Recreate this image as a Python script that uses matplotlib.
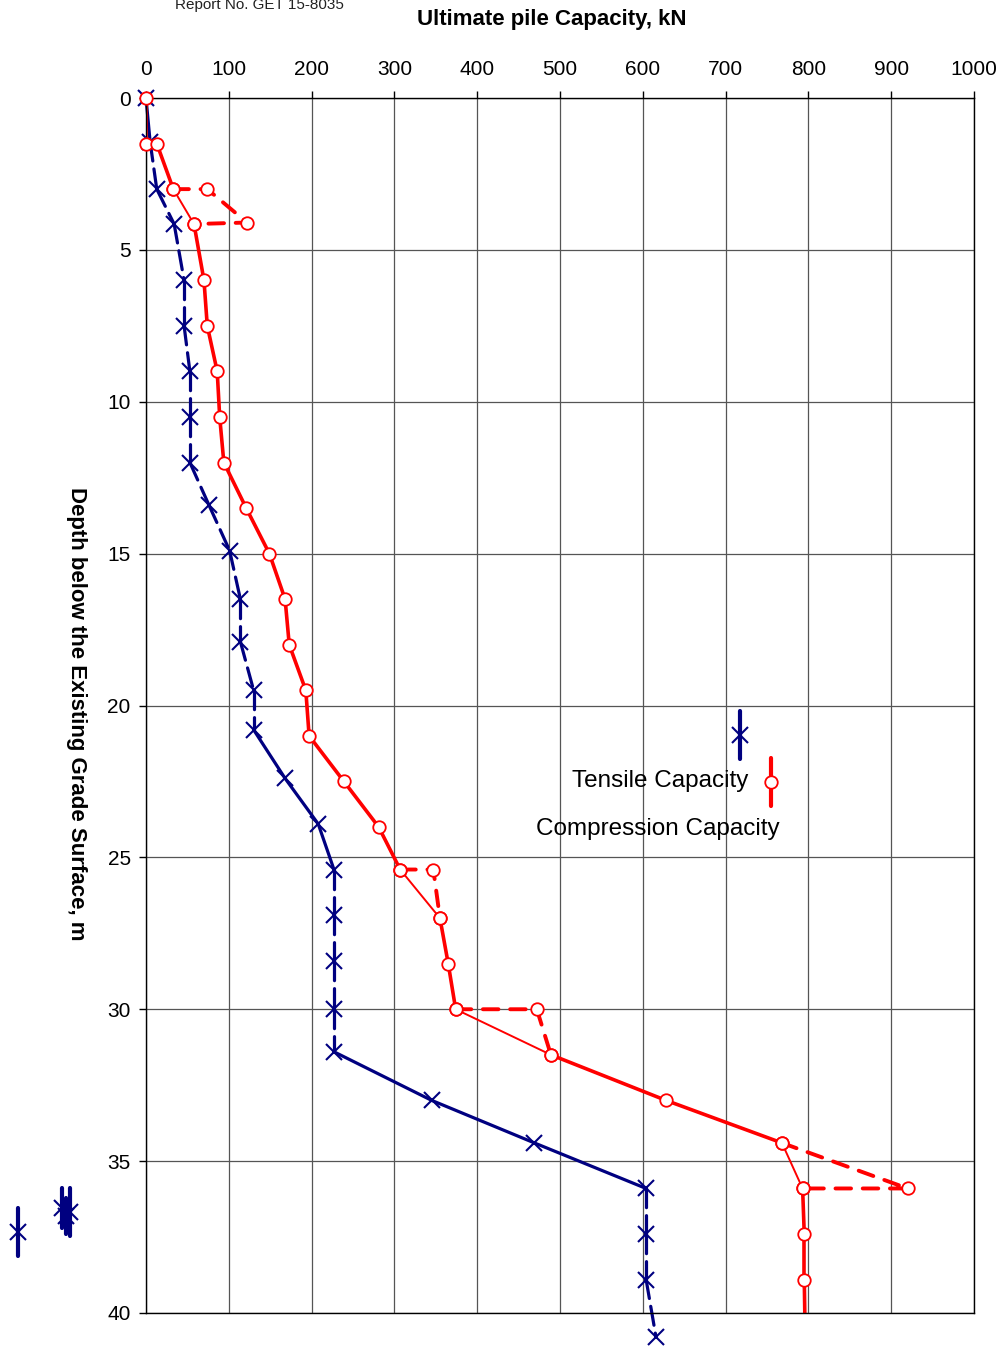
import matplotlib.pyplot as plt
from matplotlib.lines import Line2D

plt.rcParams['font.family'] = ['Liberation Sans', 'DejaVu Sans']

# tensile capacity (kN) vs depth (m)
tens_kn = [0, 5, 13, 34, 46, 46, 53, 53, 53, 76, 101, 114, 114, 130, 130,
           168, 208, 227, 227, 227, 227, 227, 345, 469, 604, 604, 604, 616]
tens_depth = [0, 1.45, 3.0, 4.15, 6.0, 7.5, 9.0, 10.5, 12.0, 13.4, 14.9, 16.5,
              17.9, 19.5, 20.8, 22.4, 23.9, 25.4, 26.9, 28.4, 30.0, 31.4,
              33.0, 34.4, 35.9, 37.4, 38.9, 40.8]
# segments of the tensile line that render solid (rest dashed)
tens_solid = [0, 14, 15, 16, 21, 22, 23]

# compression capacity, main line
comp_kn = [0, 0, 13, 33, 58, 70, 74, 86, 89, 94, 121, 149, 168, 173, 193, 197,
           239, 281, 307, 355, 365, 374, 489, 628, 768, 793, 795, 795, 796]
comp_depth = [0, 1.5, 1.5, 3.0, 4.15, 6.0, 7.5, 9.0, 10.5, 12.0, 13.5, 15.0,
              16.5, 18.0, 19.5, 21.0, 22.5, 24.0, 25.4, 27.0, 28.5, 30.0, 31.5,
              33.0, 34.4, 35.9, 37.4, 38.9, 40.6]
comp_thin = [3, 18, 21, 24]

# dashed detours of the compression series
detours = [
    ([33, 74, 122, 58], [3.0, 3.0, 4.1, 4.15]),
    ([307, 347, 355], [25.4, 25.4, 27.0]),
    ([374, 472, 489], [30.0, 30.0, 31.5]),
    ([768, 920, 793], [34.4, 35.9, 35.9]),
]

x_ticks = [0, 100, 200, 300, 400, 500, 600, 700, 800, 900, 1000]
y_ticks = [0, 5, 10, 15, 20, 25, 30, 35, 40]

navy = '#000080'
red = '#FF0000'

fig = plt.figure(figsize=(10.04, 13.5), dpi=100)
ax = fig.add_axes([146 / 1004, 1 - 1313 / 1350, 828 / 1004, 1215 / 1350])

ax.set_xlim(0, 1000)
ax.set_ylim(40, 0)
ax.set_xticks(x_ticks)
ax.set_yticks(y_ticks)
ax.xaxis.tick_top()
ax.tick_params(axis='both', labelsize=15, length=5, width=1, direction='out', pad=6)
ax.tick_params(axis='x', pad=9)
ax.grid(True, color='#555555', linewidth=0.9)
ax.set_axisbelow(True)
for s in ax.spines.values():
    s.set_linewidth(1)

# tensile line, segment by segment
for i in range(len(tens_kn) - 1):
    ls = '-' if i in tens_solid else (0, (6, 2.5))
    ax.plot(tens_kn[i:i + 2], tens_depth[i:i + 2], color=navy, lw=2.3,
            linestyle=ls, clip_on=False, solid_capstyle='round', dash_capstyle='round')
ax.plot(tens_kn, tens_depth, linestyle='none', marker='x', ms=11, mew=1.5,
        color=navy, clip_on=False, zorder=4)

# compression main line
for i in range(len(comp_kn) - 1):
    lw = 1.4 if i in comp_thin else 2.6
    ax.plot(comp_kn[i:i + 2], comp_depth[i:i + 2], color=red, lw=lw,
            solid_capstyle='round')
for dx, dy in detours:
    ax.plot(dx, dy, color=red, lw=2.8, linestyle=(0, (4, 3)), dash_capstyle='round')
    ax.plot(dx, dy, linestyle='none', marker='o', ms=9, mfc='white', mec=red, mew=1.3,
            zorder=5)
ax.plot(comp_kn[:-1], comp_depth[:-1], linestyle='none', marker='o', ms=9,
        mfc='white', mec=red, mew=1.3, zorder=5, clip_on=False)

ax.set_ylabel('Depth below the Existing Grade Surface, m', fontsize=16,
              fontweight='bold', rotation=-90, va='bottom')
ax.yaxis.set_label_coords(-80 / 828, 1 - (714 - 98) / 1215)

fig.text(552 / 1004, 1 - 19 / 1350, 'Ultimate pile Capacity, kN', fontsize=16,
         fontweight='bold', ha='center', va='center')
fig.text(175 / 1004, 1 - 5 / 1350, 'Report No. GET 15-8035', fontsize=11,
         ha='left', va='center', color='#222222')


# broken legend, positioned in figure pixels
def glyph(px, py, color, marker, half=24, **kw):
    x = px / 1004
    fig.add_artist(Line2D([x, x], [1 - (py - half) / 1350, 1 - (py + half) / 1350],
                          color=color, lw=3, solid_capstyle='round'))
    fig.add_artist(Line2D([x], [1 - py / 1350], marker=marker, color=color, **kw))


glyph(740, 735, navy, 'x', ms=11, mew=1.5)
glyph(771, 782, red, 'o', ms=9, mfc='white', mec=red, mew=1.3)
fig.text(748 / 1004, 1 - 781 / 1350, 'Tensile Capacity', fontsize=17.5,
         ha='right', va='center')
fig.text(780 / 1004, 1 - 829 / 1350, 'Compression Capacity', fontsize=17.5,
         ha='right', va='center')

# stray legend glyphs at the lower left
glyph(18, 1232, navy, 'x', ms=11, mew=1.5)
glyph(62, 1208, navy, 'x', half=20, ms=11, mew=1.5)
glyph(70, 1212, navy, 'x', half=24, ms=11, mew=1.5)
glyph(66, 1216, navy, 'x', half=18, ms=11, mew=1.5)

fig.savefig('out.png', dpi=100)
